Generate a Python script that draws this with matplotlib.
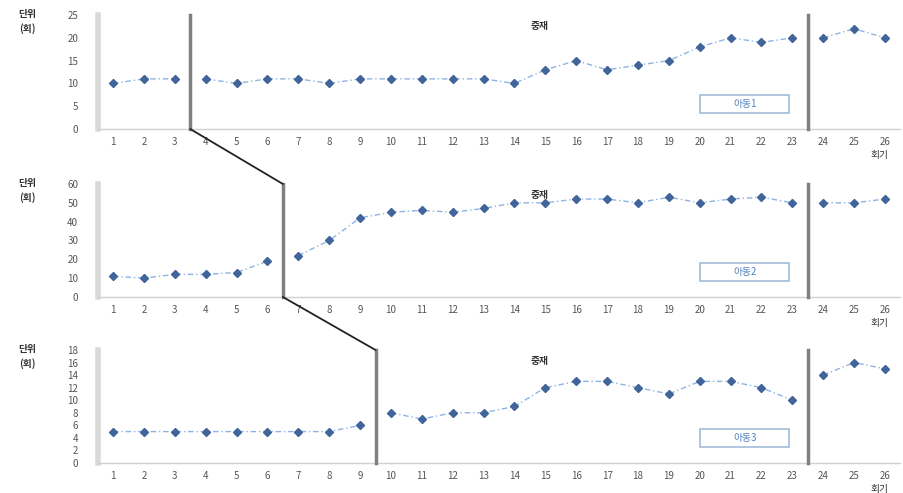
import numpy as np
import matplotlib.pyplot as plt
from matplotlib.patches import ConnectionPatch, Rectangle

plt.rcParams['font.family'] = ['Noto Sans CJK KR', 'DejaVu Sans']

sessions = list(range(1, 27))
child1 = [10, 11, 11, 11, 10, 11, 11, 10, 11, 11, 11, 11, 11, 10, 13, 15, 13, 14, 15, 18, 20, 19, 20, 20, 22, 20]
child2 = [11, 10, 12, 12, 13, 19, 22, 30, 42, 45, 46, 45, 47, 50, 50, 52, 52, 50, 53, 50, 52, 53, 50, 50, 50, 52]
child3 = [5, 5, 5, 5, 5, 5, 5, 5, 6, 8, 7, 8, 8, 9, 12, 13, 13, 12, 11, 13, 13, 12, 10, 14, 16, 15]

children = ['아동1', '아동2', '아동3']
baseline_len = [3, 6, 9]
maint_start = 24
y_max = [25, 60, 18]
y_step = [5, 10, 2]

fig = plt.figure(figsize=(9.04, 4.93), dpi=100)
rects = [[0.108, 0.7383, 0.888, 0.2312],
         [0.108, 0.3976, 0.888, 0.2292],
         [0.108, 0.0609, 0.888, 0.2292]]

axes = []
data = [child1, child2, child3]
for i in range(3):
    ax = fig.add_axes(rects[i])
    axes.append(ax)
    x = np.array(sessions)
    y = np.array(data[i])
    b = baseline_len[i]
    # baseline / intervention / maintenance drawn as separate segments
    segs = [(x <= b), (x > b) & (x < maint_start), (x >= maint_start)]
    for s in segs:
        ax.plot(x[s], y[s], linestyle=(0, (4, 2, 1, 2)), color='#8fb4e3', lw=1.0, zorder=2)
        ax.plot(x[s], y[s], linestyle='none', marker='D', ms=4, color='#41659a', zorder=3)
    ax.set_xlim(0.5, 26.5)
    ax.set_ylim(0, y_max[i])
    ax.set_yticks(np.arange(0, y_max[i] + 0.1, y_step[i]))
    ax.set_xticks(sessions)
    ax.tick_params(length=0, labelsize=7, colors='#555555')
    ax.tick_params(axis='y', pad=14)
    ax.tick_params(axis='x', pad=6)
    for sp in ['top', 'right']:
        ax.spines[sp].set_visible(False)
    ax.spines['left'].set_color('#d9d9d9')
    ax.spines['left'].set_linewidth(4)
    ax.spines['bottom'].set_color('#d0d0d0')
    ax.spines['bottom'].set_linewidth(1)

    # phase lines
    ax.axvline(b + 0.5, color='#808080', lw=2.5, zorder=4, clip_on=False)
    ax.axvline(maint_start - 0.5, color='#808080', lw=2.5, zorder=4, clip_on=False)

    ax.text(0.55, 0.9, '중재', transform=ax.transAxes, fontsize=7, color='#333333',
            ha='center', va='center', fontweight='bold')
    ax.add_patch(Rectangle((0.751, 0.14), 0.11, 0.16, transform=ax.transAxes,
                           fc='white', ec='#a9c1dc', lw=1.3, zorder=5))
    ax.text(0.806, 0.22, children[i], transform=ax.transAxes, fontsize=7, color='#4f81bd',
            ha='center', va='center', zorder=6)
    ax.text(0.985, -0.23, '회기', transform=ax.transAxes, fontsize=7, color='#333333',
            ha='right', va='center')
    ax.text(-0.088, 1.01, '단위', transform=ax.transAxes, fontsize=7, color='#333333',
            ha='center', va='center', fontweight='bold')
    ax.text(-0.088, 0.88, '(회)', transform=ax.transAxes, fontsize=7, color='#333333',
            ha='center', va='center', fontweight='bold')

# staircase connectors between phase lines
for i in range(2):
    con = ConnectionPatch(xyA=(baseline_len[i] + 0.5, 0), coordsA=axes[i].transData,
                          xyB=(baseline_len[i + 1] + 0.5, y_max[i + 1]), coordsB=axes[i + 1].transData,
                          color='#222222', lw=1.3, zorder=5)
    fig.add_artist(con)

fig.savefig('out.png', dpi=100)
